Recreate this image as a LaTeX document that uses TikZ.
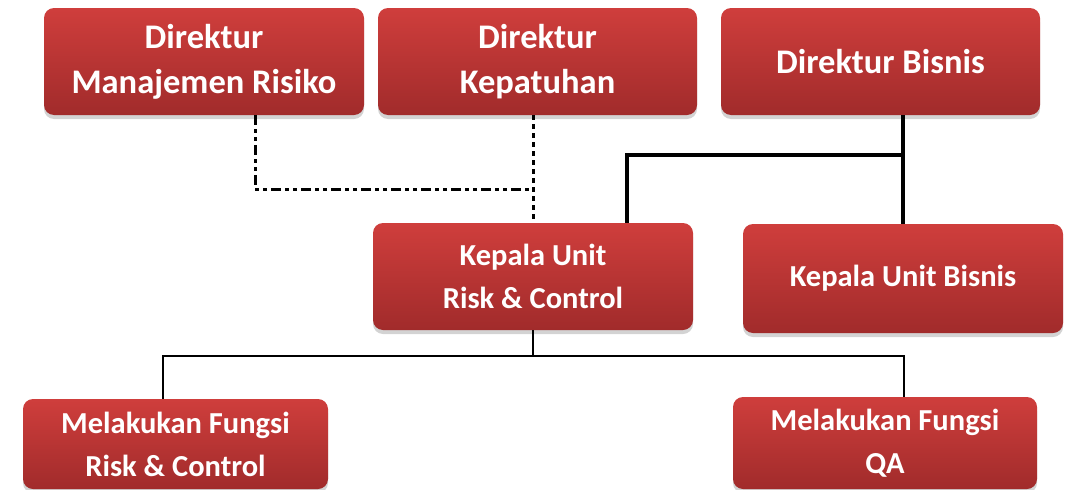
\documentclass[tikz,border=0pt]{standalone}
\usepackage{fontspec}
\setmainfont{Carlito}
\usetikzlibrary{shadows,calc}
\definecolor{boxtop}{HTML}{CF3E3C}
\definecolor{boxbot}{HTML}{A12B2B}
\tikzset{
  box/.style={rounded corners=10pt, top color=boxtop, bottom color=boxbot, draw=none,
    text=white, font=\bfseries, align=center,
    drop shadow={opacity=0.35, shadow xshift=0pt, shadow yshift=-4pt}},
  bigtext/.style={font=\fontsize{34.5}{45}\selectfont\bfseries},
  smalltext/.style={font=\fontsize{30.5}{43}\selectfont\bfseries},
  dashdotline/.style={line width=3pt, dash pattern=on 10pt off 4pt on 4pt off 4pt on 4pt off 4pt},
  dotline/.style={line width=3pt, dash pattern=on 5pt off 4pt},
  thickline/.style={line width=4pt},
  thinline/.style={line width=1.5pt}
}
\begin{document}
\begin{tikzpicture}[x=1pt,y=-1pt]
\useasboundingbox (0,0) rectangle (1074,490);
\node[box,bigtext,minimum width=320pt,minimum height=107pt] (dmr) at (204,61.5) {Direktur\\Manajemen Risiko};
\node[box,bigtext,minimum width=319pt,minimum height=107pt] (dk) at (537.5,61.5) {Direktur\\Kepatuhan};
\node[box,bigtext,minimum width=319pt,minimum height=107pt] (db) at (880.5,61.5) {Direktur Bisnis};
\node[box,smalltext,minimum width=320pt,minimum height=107pt] (kurc) at (533,276.5) {Kepala Unit\\Risk \& Control};
\node[box,smalltext,minimum width=320pt,minimum height=109pt] (kub) at (903,278.5) {Kepala Unit Bisnis};
\node[box,smalltext,minimum width=305pt,minimum height=90pt] (mfrc) at (175.5,444) {Melakukan Fungsi\\Risk \& Control};
\node[box,smalltext,minimum width=304pt,minimum height=92pt] (mfqa) at (885,443) {Melakukan Fungsi\\QA};
% junction coordinates
\coordinate (j1) at (255,189);
\coordinate (j2) at (533,189);
\coordinate (j3) at (627,155);
\coordinate (j4) at (903,155);
\coordinate (j5) at (163,356);
\coordinate (j6) at (904,356);
% dashed links
\draw[dashdotline] (dmr.south -| j1) -- (j1) -- (j2);
\draw[dotline] (dk.south -| j2) -- (kurc.north -| j2);
% solid thick links
\draw[thickline] (db.south -| j4) -- (kub.north -| j4);
\draw[thickline] (j4) -- (j3) -- (kurc.north -| j3);
% thin links
\draw[thinline] (kurc.south) -- (kurc.south |- j5);
\draw[thinline] (mfrc.north -| j5) -- (j5) -- (j6) -- (mfqa.north -| j6);
\end{tikzpicture}
\end{document}
